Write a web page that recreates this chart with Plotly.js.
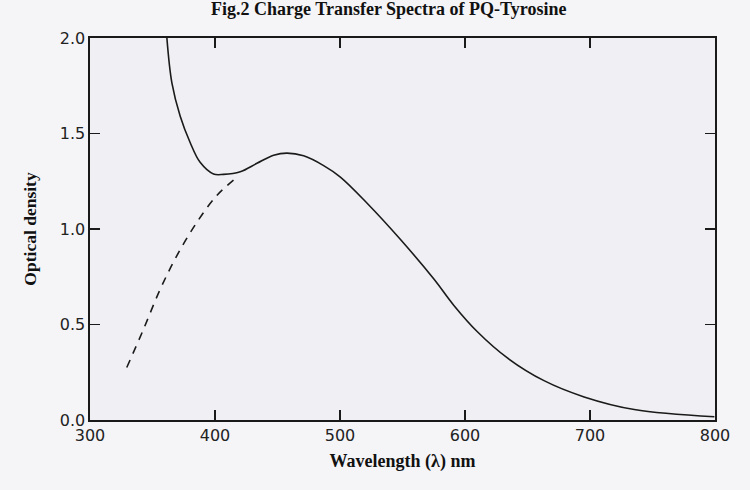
<!DOCTYPE html>
<html>
<head>
<meta charset="utf-8">
<script src="https://cdn.plot.ly/plotly-3.0.1.min.js"></script>
<style>html,body{margin:0;padding:0;background:#f5f5f8;}</style>
</head>
<body>
<div id="chart" style="width:750px;height:490px;"></div>
<script>
// Solid spectrum (PQ-Tyrosine charge-transfer)
const solidWavelength = [361.5, 365.5, 372.1, 380.1, 388.1, 398.8, 406.8, 420.2, 433.6, 446.9, 457.6, 470.9, 486.9, 500.3, 521.7, 548.4, 575.1, 591.1, 609.9, 633.9, 663.2, 695.3, 735.4, 799.5];
const solidDensity    = [2.0, 1.765, 1.592, 1.453, 1.349, 1.288, 1.286, 1.300, 1.344, 1.386, 1.397, 1.383, 1.332, 1.272, 1.135, 0.945, 0.738, 0.600, 0.462, 0.325, 0.206, 0.121, 0.055, 0.017];
// Dashed extrapolated band
const dashWavelength = [329.4, 342.6, 356.0, 369.4, 385.4, 401.4, 414.8];
const dashDensity    = [0.275, 0.472, 0.682, 0.859, 1.034, 1.175, 1.256];
// Axis ticks
const xTicks = [300, 400, 500, 600, 700, 800];
const yTicks = [0.0, 0.5, 1.0, 1.5, 2.0];
const yTickText = ['0.0', '0.5', '1.0', '1.5', '2.0'];

const traces = [
  {x: solidWavelength, y: solidDensity, mode: 'lines', type: 'scatter',
   line: {color: '#1a1a1a', width: 1.6, shape: 'spline', smoothing: 1}, hoverinfo: 'skip'},
  {x: dashWavelength, y: dashDensity, mode: 'lines', type: 'scatter',
   line: {color: '#1a1a1a', width: 1.6, shape: 'spline', smoothing: 1, dash: '8px,7px'}, hoverinfo: 'skip'}
];

const axisCommon = {
  showline: true, linecolor: '#1a1a1a', linewidth: 1.6, mirror: 'allticks',
  ticks: 'inside', ticklen: 10, tickwidth: 1.6, tickcolor: '#1a1a1a',
  showgrid: false, zeroline: false,
  tickfont: {family: 'DejaVu Sans', size: 16, color: '#222'}
};

const layout = {
  width: 750, height: 490,
  margin: {l: 90, r: 35, t: 38, b: 70},
  paper_bgcolor: '#f5f5f8', plot_bgcolor: '#f0f0f4',
  showlegend: false,
  title: {text: '<b>Fig.2 Charge Transfer Spectra of PQ-Tyrosine</b>',
          font: {family: 'Liberation Serif', size: 18, color: '#111'},
          x: 0.478, xanchor: 'center', xref: 'paper', yref: 'container', y: 1 - 9/490, yanchor: 'middle'},
  xaxis: Object.assign({}, axisCommon, {
    range: [300, 800], tickvals: xTicks, ticktext: xTicks.map(String),
    title: {text: '<b>Wavelength (λ) nm</b>', font: {family: 'Liberation Serif', size: 18, color: '#111'}, standoff: 10}
  }),
  yaxis: Object.assign({}, axisCommon, {
    range: [0, 2.0], tickvals: yTicks, ticktext: yTickText,
    title: {text: '<b>Optical density</b>', font: {family: 'Liberation Serif', size: 17.5, color: '#111'}, standoff: 18}
  })
};

Plotly.newPlot('chart', traces, layout, {displayModeBar: false, staticPlot: true});
</script>
</body>
</html>
